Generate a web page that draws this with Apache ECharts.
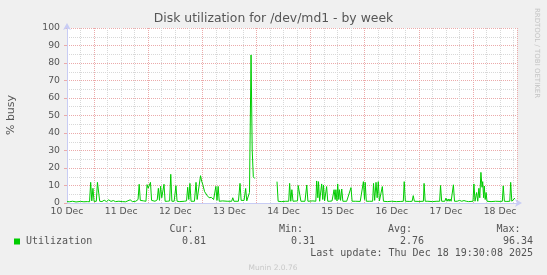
<!DOCTYPE html>
<html>
<head>
<meta charset="utf-8">
<script src="https://cdn.jsdelivr.net/npm/echarts@6/dist/echarts.min.js"></script>
<style>
html,body{margin:0;padding:0;background:#f0f0f0;}
#chart{width:547px;height:275px;}
</style>
</head>
<body>
<div id="chart"></div>
<script>
// ---- data (hours since 10 Dec 00:00, % busy) ----
const dayLabels = ['10 Dec','11 Dec','12 Dec','13 Dec','14 Dec','15 Dec','16 Dec','17 Dec','18 Dec'];
const yTickLabels = [0,10,20,30,40,50,60,70,80,90,100];
const hours = [
 12.0,13.0,14.5,16.0,18.0,19.5,21.0,22.0,22.5,23.0,23.5,24.0,25.0,25.5,26.0,26.5,27.5,28.5,29.5,30.5,
 31.5,32.5,33.5,35.0,36.5,38.0,40.0,41.0,42.5,43.5,44.0,44.5,46.0,47.0,47.5,48.0,49.0,49.5,50.0,51.0,
 52.0,52.5,53.0,53.5,54.0,55.0,55.5,56.5,57.5,58.0,58.5,59.5,60.3,60.8,62.0,64.0,65.0,65.5,66.0,66.5,
 67.0,68.5,69.2,69.7,70.5,71.2,71.7,72.2,73.0,74.0,75.0,76.0,77.0,77.5,78.0,78.5,79.0,79.5,81.0,83.0,
 85.0,85.5,86.0,88.0,88.7,89.2,90.5,91.2,91.7,92.5,92.9,93.6,94.1,94.6,95.2,100.0,
 105.1,105.6,107.0,109.0,110.3,110.7,111.2,111.7,112.2,113.0,114.2,114.5,115.2,115.7,117.5,118.3,118.8,121.0,
 122.3,122.7,123.2,123.5,124.0,124.9,125.4,125.7,126.2,127.1,127.6,128.5,129.5,130.4,130.9,131.2,131.7,132.0,
 132.5,132.8,133.3,133.8,134.3,136.0,137.9,138.4,140.0,142.0,143.4,143.9,144.2,144.7,146.0,147.5,147.9,148.4,
 149.0,149.5,150.0,150.5,151.3,151.8,152.3,154.0,156.0,158.0,160.0,161.1,161.5,162.0,164.0,165.0,165.5,166.0,
 168.0,170.0,170.3,170.8,172.0,174.0,176.0,177.2,177.6,178.1,179.5,180.0,180.5,181.0,181.4,181.8,182.3,183.0,
 183.3,183.8,185.0,186.0,187.0,188.0,189.0,190.0,192.0,192.4,192.9,193.6,194.1,194.6,195.0,195.5,196.0,196.3,
 196.7,197.0,197.4,197.8,198.2,200.0,202.0,204.0,205.0,205.4,205.9,207.0,208.3,208.7,209.2,210.0,210.6
];
const utilization = [
 0.8,0.7,1.0,0.6,0.9,0.7,0.8,0.7,11.8,1.2,8.4,0.9,1.0,11.8,11.5,1.0,0.8,1.6,0.8,1.8,
 0.9,1.4,0.8,1.0,0.8,0.7,1.8,0.8,1.0,2.0,10.7,1.5,1.2,1.0,10.5,8.5,11.8,1.5,2.5,1.0,
 1.8,8.4,1.5,9.6,3.0,10.7,1.0,1.0,1.2,16.4,1.0,1.0,9.9,1.0,0.8,1.0,1.2,9.0,2.0,11.2,
 1.0,1.0,11.8,2.0,3.0,15.6,12.5,10.5,6.5,4.5,3.0,3.2,2.0,1.0,9.5,1.5,9.5,1.0,1.2,1.0,
 1.0,3.0,1.0,1.0,11.2,1.5,1.5,8.3,1.2,2.0,6.0,84.6,30.3,15.0,14.0,null,
 12.2,1.0,0.8,1.0,1.0,11.2,1.0,7.6,1.0,1.0,1.2,10.0,10.0,1.0,1.0,10.3,1.0,1.2,
 1.0,12.6,3.0,12.2,1.0,10.9,2.0,10.3,1.2,9.4,1.0,1.0,1.2,7.6,2.0,7.6,1.2,10.9,
 2.0,7.6,1.5,8.0,1.0,1.0,8.8,1.0,1.0,0.9,12.2,2.0,11.8,1.0,1.0,1.0,11.2,1.5,
 11.8,3.0,12.2,1.2,1.0,9.4,1.0,0.8,1.0,0.8,0.9,1.0,12.2,1.0,0.9,1.0,4.2,1.0,
 0.9,1.0,11.2,1.0,1.0,0.8,1.0,1.0,10.0,1.0,1.0,2.8,1.0,2.3,1.0,2.3,1.0,1.0,
 10.4,1.0,1.0,1.5,1.0,1.4,1.0,0.8,1.0,10.9,1.0,6.0,1.0,8.4,3.0,17.5,9.0,12.2,
 3.0,9.7,2.0,6.0,1.0,0.8,1.0,0.9,1.0,9.8,1.0,0.9,1.0,11.8,1.0,0.9,2.8
];
const statNames = ['Cur:','Min:','Avg:','Max:'];
const statValues = ['0.81','0.31','2.76','96.34'];
const seriesName = 'Utilization';
const titleText = 'Disk utilization for /dev/md1 - by week';
const lastUpdate = 'Last update: Thu Dec 18 19:30:08 2025';

// ---- styling ----
const RED = '#ebaaaa', GRAY = '#d8d8d8', AX = '#c8ccf4', TXT = '#555555';
const sans = 'DejaVu Sans', mono = 'DejaVu Sans Mono';

const seriesData = hours.map((h, i) => [h, utilization[i]]);

const statX = [[193.6, 206], [303, 315], [412, 424], [520.6, 533]];
const graphics = [
  {type:'text', x:273.5, y:19, style:{text:titleText, textAlign:'center', textVerticalAlign:'middle', fill:TXT, font:'12.4px "DejaVu Sans"'}},
  {type:'text', x:11, y:115, rotation:Math.PI/2, style:{text:'% busy', textAlign:'center', textVerticalAlign:'middle', fill:TXT, font:'11px "DejaVu Sans"'}},
  {type:'text', x:537, y:53, rotation:-Math.PI/2, style:{text:'RRDTOOL / TOBI OETIKER', textAlign:'center', textVerticalAlign:'middle', fill:'#c4c4c4', font:'7px "DejaVu Sans"'}},
  {type:'rect', shape:{x:14, y:238.5, width:6, height:6}, style:{fill:'#00cc00'}},
  {type:'text', x:26, y:241.6, style:{text:seriesName, textAlign:'left', textVerticalAlign:'middle', fill:TXT, font:'10px "DejaVu Sans Mono"'}},
  {type:'text', x:533, y:253.9, style:{text:lastUpdate, textAlign:'right', textVerticalAlign:'middle', fill:TXT, font:'10px "DejaVu Sans Mono"'}},
  {type:'text', x:273, y:267.8, style:{text:'Munin 2.0.76', textAlign:'center', textVerticalAlign:'middle', fill:'#c8c8c8', font:'7.5px "DejaVu Sans"'}}
];
statNames.forEach((n, i) => {
  graphics.push({type:'text', x:statX[i][0], y:229.2, style:{text:n, textAlign:'right', textVerticalAlign:'middle', fill:TXT, font:'10px "DejaVu Sans Mono"'}});
  graphics.push({type:'text', x:statX[i][1], y:241.6, style:{text:statValues[i], textAlign:'right', textVerticalAlign:'middle', fill:TXT, font:'10px "DejaVu Sans Mono"'}});
});

const chart = echarts.init(document.getElementById('chart'), null, {renderer:'canvas'});
chart.setOption({
  animation:false,
  backgroundColor:'#f0f0f0',
  grid:{left:67, right:30, top:28, bottom:72, show:true, backgroundColor:'#ffffff', borderWidth:0},
  xAxis:{
    type:'value', min:12, max:211.5, interval:6,
    axisLine:{show:true, lineStyle:{color:AX, width:1}, symbol:['none','arrow'], symbolSize:[6,7], symbolOffset:[0,5]},
    axisTick:{show:false},
    axisLabel:{
      show:true, hideOverlap:false, showMinLabel:true, showMaxLabel:true, margin:4,
      color:TXT, fontSize:9.3, fontFamily:sans,
      formatter:function(v){
        const k = (v - 12) / 24;
        return (Math.abs(k - Math.round(k)) < 1e-6 && dayLabels[Math.round(k)]) ? dayLabels[Math.round(k)] : '';
      }
    },
    splitLine:{show:true, lineStyle:{color:[GRAY, GRAY, RED, GRAY], type:'dotted', width:1}}
  },
  yAxis:[{
    type:'value', min:0, max:100, interval:5,
    axisLine:{show:true, lineStyle:{color:AX, width:1}, symbol:['none','arrow'], symbolSize:[6,7], symbolOffset:[0,5]},
    axisTick:{show:false},
    axisLabel:{
      margin:7, color:TXT, fontSize:9.3, fontFamily:sans,
      formatter:function(v){ return yTickLabels.indexOf(v) >= 0 ? String(v) : ''; }
    },
    splitLine:{show:true, lineStyle:{color:[RED, GRAY], type:'dotted', width:1}}
  },{
    type:'value', min:0, max:100, interval:10, position:'left',
    axisLine:{show:false}, axisLabel:{show:false}, splitLine:{show:false},
    axisTick:{show:true, length:3, lineStyle:{color:RED}}
  }],
  series:[{
    name:seriesName, type:'line', data:seriesData, showSymbol:false, connectNulls:false,
    lineStyle:{color:'#00cc00', width:1}, itemStyle:{color:'#00cc00'}, z:5
  }],
  graphic:graphics
});
</script>
</body>
</html>
